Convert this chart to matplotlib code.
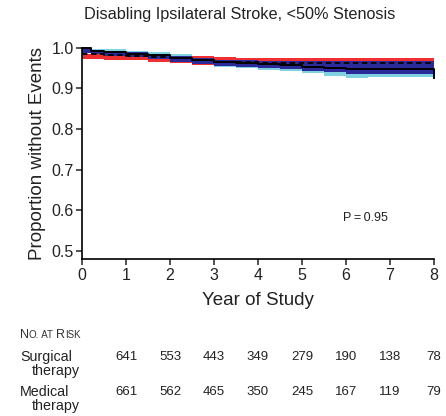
import numpy as np
import matplotlib
matplotlib.use('Agg')
import matplotlib.pyplot as plt
import matplotlib.transforms as mtransforms

plt.rcParams['font.family'] = ['Liberation Sans', 'DejaVu Sans']

# Kaplan-Meier estimates, disabling ipsilateral stroke, <50% stenosis
years = [0, 0.2, 0.5, 1.0, 1.5, 2.0, 2.5, 3.0, 3.5, 4.0, 4.5, 5.0, 5.5, 6.0, 6.5, 7.0, 7.5, 7.97, 8.0]
medical = [1.000, 0.992, 0.989, 0.986, 0.983, 0.976, 0.971, 0.966, 0.963, 0.960, 0.957, 0.954, 0.950, 0.948, 0.948, 0.948, 0.948, 0.948, 0.925]
surgical = [0.985, 0.984, 0.982, 0.980, 0.978, 0.975, 0.970, 0.966, 0.964, 0.963, 0.962, 0.962, 0.962, 0.962, 0.962, 0.962, 0.962, 0.962, 0.962]

# confidence bands
med_hi = [1.000, 0.998, 0.996, 0.993, 0.990, 0.985, 0.980, 0.975, 0.972, 0.970, 0.968, 0.966, 0.964, 0.963, 0.963, 0.963, 0.963, 0.963, 0.963]
med_lo = [0.995, 0.987, 0.983, 0.979, 0.975, 0.967, 0.960, 0.954, 0.950, 0.946, 0.942, 0.938, 0.930, 0.925, 0.928, 0.928, 0.928, 0.928, 0.885]
surg_hi = [0.986, 0.986, 0.985, 0.984, 0.983, 0.981, 0.979, 0.977, 0.976, 0.975, 0.975, 0.974, 0.974, 0.974, 0.974, 0.974, 0.974, 0.974, 0.968]
surg_lo = [0.972, 0.972, 0.971, 0.969, 0.966, 0.962, 0.958, 0.955, 0.953, 0.952, 0.952, 0.951, 0.951, 0.951, 0.951, 0.951, 0.951, 0.951, 0.945]
mid_hi = [0.996, 0.994, 0.992, 0.989, 0.986, 0.980, 0.975, 0.971, 0.969, 0.968, 0.967, 0.967, 0.968, 0.968, 0.968, 0.968, 0.968, 0.968, 0.966]
mid_lo = [0.988, 0.984, 0.981, 0.977, 0.973, 0.966, 0.960, 0.955, 0.952, 0.950, 0.947, 0.944, 0.940, 0.935, 0.935, 0.935, 0.935, 0.935, 0.920]

risk_years = [1, 2, 3, 4, 5, 6, 7, 8]
risk_surgical = [641, 553, 443, 349, 279, 190, 138, 78]
risk_medical = [661, 562, 465, 350, 245, 167, 119, 79]

ink = '#222222'

fig = plt.figure(figsize=(4.46, 4.16), dpi=100)
ax = fig.add_axes([0.184, 0.377, 0.789, 0.508])

ax.fill_between(years, med_lo, med_hi, step='post', color='#7fd3e0', lw=0, clip_on=False)
ax.fill_between(years, surg_lo, surg_hi, step='post', color='#f03030', lw=0, clip_on=False)
ax.fill_between(years, mid_lo, mid_hi, step='post', color='#2a2a9a', lw=0, clip_on=False)
ax.step(years, surgical, where='post', color='black', lw=1.3, ls=(0, (3, 2)), clip_on=False)
ax.step(years, medical, where='post', color='black', lw=1.4, clip_on=False)

ax.set_xlim(0, 8)
ax.set_ylim(0.48, 1.0)
ax.set_xticks(range(9))
ax.set_yticks([0.5, 0.6, 0.7, 0.8, 0.9, 1.0])
ax.set_yticklabels(['0.5', '0.6', '0.7', '0.8', '0.9', '1.0'])
ax.spines['top'].set_visible(False)
ax.spines['right'].set_visible(False)
ax.spines['left'].set_linewidth(1.2)
ax.spines['bottom'].set_linewidth(1.2)
ax.tick_params(direction='out', length=4, width=1.1, labelsize=11.5, colors=ink, pad=2)

ax.set_ylabel('Proportion without Events', fontsize=13.5, color=ink, labelpad=4)
ax.set_xlabel('Year of Study', fontsize=13.5, color=ink, labelpad=7)

ax.text(5.93, 0.581, 'P\u2009=\u20090.95', fontsize=9, color=ink, va='center')

fig.text(0.538, 0.966, 'Disabling Ipsilateral Stroke, <50% Stenosis',
         fontsize=11.7, ha='center', va='center', color=ink)

# "No. at Risk" header set in small caps, piece by piece along one baseline
renderer = fig.canvas.get_renderer()
x = 20 / 446
base = 1 - 338 / 416
for piece, size in [('N', 9), ('O.', 7), (' AT ', 7), ('R', 9), ('ISK', 7)]:
    t = fig.text(x, base, piece, fontsize=size, va='baseline', ha='left', color='#333333')
    x += t.get_window_extent(renderer).width / fig.bbox.width

blend = mtransforms.blended_transform_factory(ax.transData, fig.transFigure)
rows = [('Surgical', risk_surgical, 357), ('Medical', risk_medical, 392)]
for name, counts, ypx in rows:
    y = 1 - ypx / 416
    fig.text(0.045, y, name, fontsize=10.3, va='center', color=ink)
    fig.text(0.072, y - 14 / 416, 'therapy', fontsize=10.3, va='center', color=ink)
    for yr, n in zip(risk_years, counts):
        ax.text(yr, y, str(n), transform=blend, fontsize=9.5, ha='center', va='center',
                color=ink, clip_on=False)

fig.savefig('out.png', dpi=100)
